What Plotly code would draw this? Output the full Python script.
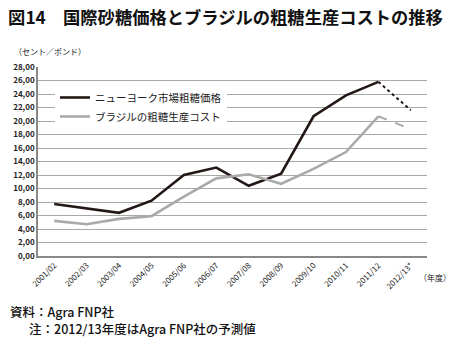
import plotly.graph_objects as go

years = ["2001/02", "2002/03", "2003/04", "2004/05", "2005/06", "2006/07",
         "2007/08", "2008/09", "2009/10", "2010/11", "2011/12", "2012/13*"]
ny_price = [7.7, 7.0, 6.4, 8.2, 12.0, 13.1, 10.4, 12.2, 20.7, 23.8, 25.8, 21.6]
brazil_cost = [5.2, 4.7, 5.5, 5.9, 8.8, 11.5, 12.1, 10.7, 12.9, 15.4, 20.7, 18.8]
y_ticks = [0, 2, 4, 6, 8, 10, 12, 14, 16, 18, 20, 22, 24, 26, 28]

W, H = 451, 344
L, R, T, B = 38, 24, 67, 88
pw, ph = W - L - R, H - T - B

def px(x):
    return (x - L) / pw

def py(y):
    return (H - B - y) / ph

FONT = "Noto Sans CJK JP"
BLACK = "#231815"
GRAY = "#aaaaaa"

fig = go.Figure()
fig.add_trace(go.Scatter(x=years[:11], y=ny_price[:11], mode="lines",
                         name="ニューヨーク市場粗糖価格",
                         line=dict(color=BLACK, width=2.6)))
fig.add_trace(go.Scatter(x=years[:11], y=brazil_cost[:11], mode="lines",
                         name="ブラジルの粗糖生産コスト",
                         line=dict(color=GRAY, width=2.6)))
fig.add_trace(go.Scatter(x=years[10:], y=ny_price[10:], mode="lines",
                         showlegend=False,
                         line=dict(color=BLACK, width=2, dash="dot")))
fig.add_trace(go.Scatter(x=years[10:], y=brazil_cost[10:], mode="lines",
                         showlegend=False,
                         line=dict(color=GRAY, width=2, dash="dash")))

ann = [
    dict(text="（セント／ポンド）", x=px(12), y=py(51), xanchor="left", yanchor="middle",
         font=dict(size=8, color="#222")),
    dict(text="（年度）", x=px(417), y=py(277), xanchor="left", yanchor="middle",
         font=dict(size=8, color="#222")),
    dict(text="資料：Agra FNP社", x=px(8), y=py(311), xanchor="left", yanchor="middle",
         font=dict(size=12.5, color="#111", weight=500)),
    dict(text="注：2012/13年度はAgra FNP社の予測値", x=px(27), y=py(328),
         xanchor="left", yanchor="middle", font=dict(size=12.5, color="#111", weight=500)),
]
for a in ann:
    a.update(xref="paper", yref="paper", showarrow=False)

fig.update_layout(
    width=W, height=H,
    margin=dict(l=L, r=R, t=T, b=B, pad=0),
    paper_bgcolor="white", plot_bgcolor="white",
    separators=", ",
    font=dict(family=FONT, color="#222"),
    title=dict(text="<b>図14　国際砂糖価格とブラジルの粗糖生産コストの推移</b>",
               x=0.5, xref="container", xanchor="center",
               y=1 - 17.5 / H, yref="container", yanchor="middle",
               font=dict(size=17.3, color="#111", family=FONT)),
    legend=dict(x=px(55), y=py(83), xanchor="left", yanchor="top",
                bgcolor="white", borderwidth=0,
                font=dict(size=10.5, color="#222"),
                itemwidth=30, tracegroupgap=0),
    xaxis=dict(type="category", range=[-0.5, 11.5], showgrid=False,
               showline=True, linecolor="#888", linewidth=1.5,
               tickangle=-45, tickfont=dict(size=8, color="#222"),
               ticks="", fixedrange=True),
    yaxis=dict(range=[0, 28], tickvals=y_ticks, tickformat=".2f",
               showgrid=True, gridcolor="#a8a8a8", gridwidth=1,
               showline=True, linecolor="#888", linewidth=1.5,
               zeroline=False, ticks="", tickfont=dict(size=8, color="#222", weight=600),
               fixedrange=True),
    annotations=ann,
    showlegend=True,
)

fig.write_html("out.html")
